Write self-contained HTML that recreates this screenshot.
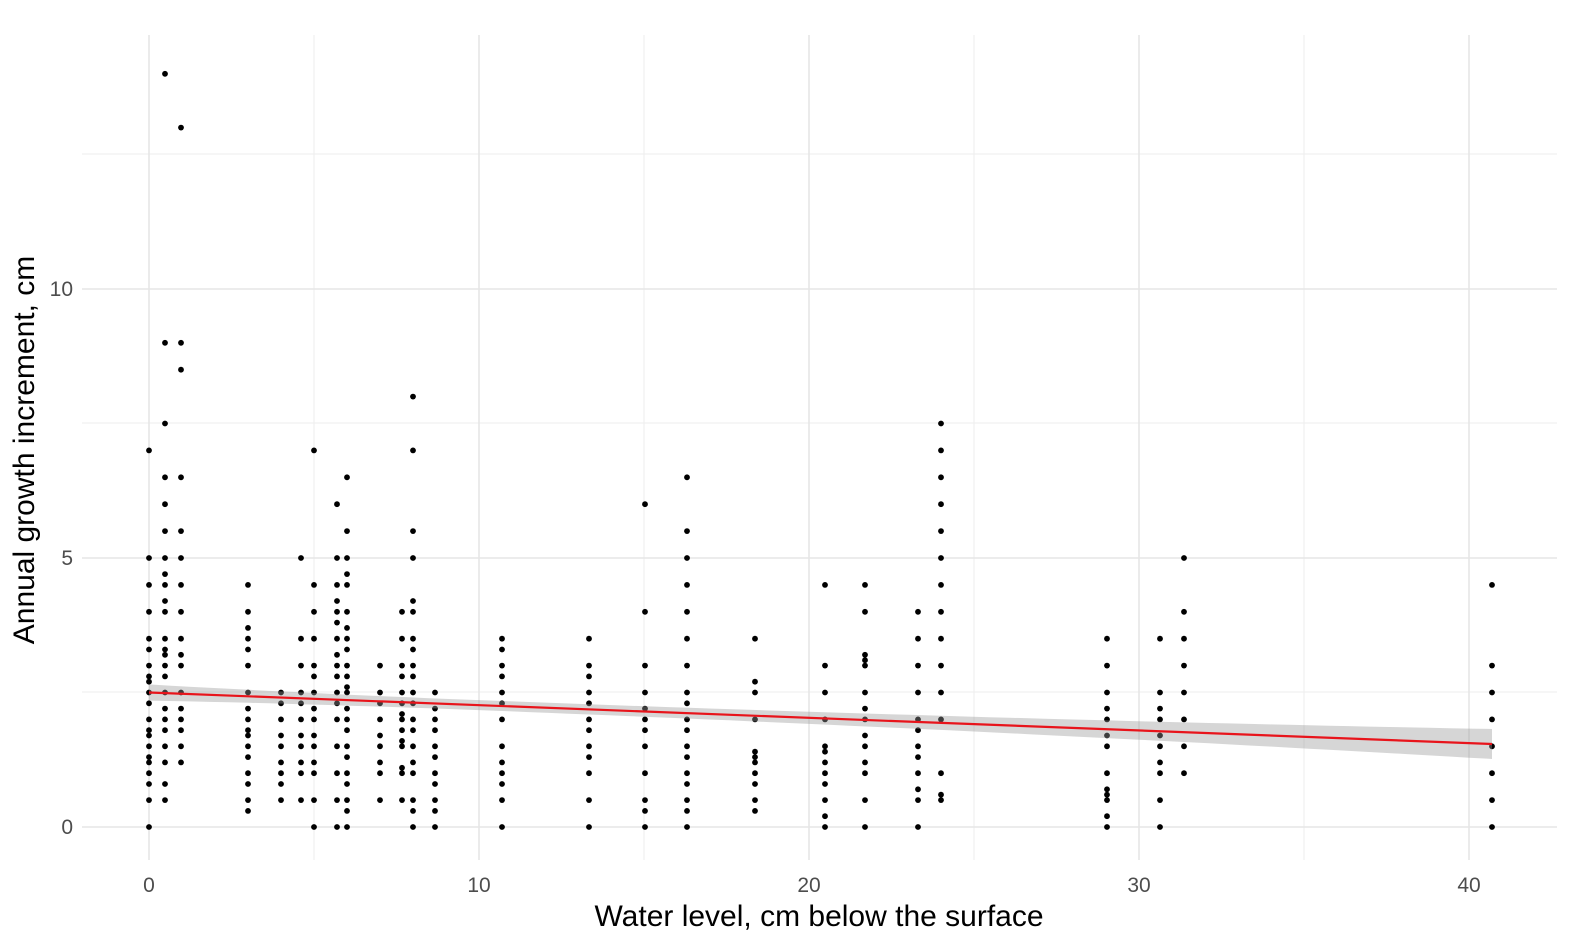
<!DOCTYPE html>
<html><head><meta charset="utf-8"><style>
html,body{margin:0;padding:0;background:#fff;overflow:hidden;width:1574px;height:946px}
svg{display:block;font-family:"Liberation Sans",sans-serif}
</style></head><body>
<svg id="s" width="1574" height="946" xmlns="http://www.w3.org/2000/svg">
<g stroke="#f0f0f0" stroke-width="1.2">
<line x1="314" y1="35" x2="314" y2="860"/><line x1="644" y1="35" x2="644" y2="860"/><line x1="974" y1="35" x2="974" y2="860"/><line x1="1304" y1="35" x2="1304" y2="860"/>
<line x1="82" y1="692" x2="1557" y2="692"/><line x1="82" y1="423" x2="1557" y2="423"/><line x1="82" y1="154" x2="1557" y2="154"/>
</g>
<g stroke="#e6e6e6" stroke-width="1.6">
<line x1="149" y1="35" x2="149" y2="860"/><line x1="479" y1="35" x2="479" y2="860"/><line x1="809" y1="35" x2="809" y2="860"/><line x1="1139" y1="35" x2="1139" y2="860"/><line x1="1469" y1="35" x2="1469" y2="860"/>
<line x1="82" y1="827" x2="1557" y2="827"/><line x1="82" y1="558" x2="1557" y2="558"/><line x1="82" y1="289" x2="1557" y2="289"/>
</g>
<g id="pts" fill="#000"></g>
<path id="band" fill="#999" fill-opacity="0.4"/>
<line x1="149" y1="692.5" x2="1492" y2="744" stroke="#e8141b" stroke-width="2.2"/>
<g fill="#4d4d4d" font-size="21" text-anchor="middle">
<text x="149" y="892">0</text><text x="479" y="892">10</text><text x="809" y="892">20</text><text x="1139" y="892">30</text><text x="1469" y="892">40</text>
</g>
<g fill="#4d4d4d" font-size="21" text-anchor="end">
<text x="73" y="834">0</text><text x="73" y="565">5</text><text x="73" y="296">10</text>
</g>
<text x="819" y="926" font-size="30" text-anchor="middle" fill="#000">Water level, cm below the surface</text>
<text transform="translate(34,450) rotate(-90)" font-size="30" text-anchor="middle" fill="#000">Annual growth increment, cm</text>
</svg>
<script>
var D={149:[0,0.5,0.8,1,1.2,1.3,1.5,1.7,1.8,2,2.3,2.5,2.7,2.8,3,3.3,3.5,4,4.5,5,7],
165:[0.5,0.8,1.2,1.5,1.8,2,2.2,2.5,2.8,3,3.2,3.3,3.5,4,4.2,4.5,4.7,5,5.5,6,6.5,7.5,9,14],
181:[1.2,1.5,1.8,2,2.2,2.5,3,3.2,3.5,4,4.5,5,5.5,6.5,8.5,9,13],
248:[0.3,0.5,0.8,1,1.3,1.5,1.7,1.8,2,2.2,2.5,3,3.3,3.5,3.7,4,4.5],
281:[0.5,0.8,1,1.2,1.5,1.7,2,2.3,2.5],
301:[0.5,1,1.2,1.5,1.7,2,2.3,2.5,3,3.5,5],
314:[0,0.5,1,1.2,1.5,1.7,2,2.2,2.5,2.8,3,3.5,4,4.5,7],
337:[0,0.5,1,1.5,2,2.3,2.5,2.8,3,3.2,3.5,3.8,4,4.2,4.5,5,6],
347:[0,0.3,0.5,0.8,1,1.3,1.5,1.8,2,2.2,2.5,2.6,2.8,3,3.3,3.5,3.7,4,4.5,4.7,5,5.5,6.5],
380:[0.5,1,1.2,1.5,1.7,2,2.3,2.5,3],
402:[0.5,1,1.1,1.5,1.6,1.8,2,2.1,2.3,2.5,2.8,3,3.5,4],
413:[0,0.3,0.5,1,1.2,1.5,1.8,2,2.3,2.5,2.8,3,3.3,3.5,4,4.2,5,5.5,7,8],
435:[0,0.3,0.5,0.8,1,1.3,1.5,1.8,2,2.2,2.5],
502:[0,0.5,0.8,1,1.2,1.5,2,2.3,2.5,2.8,3,3.3,3.5],
589:[0,0.5,1,1.3,1.5,1.8,2,2.3,2.5,2.8,3,3.5],
645:[0,0.3,0.5,1,1.5,1.8,2,2.2,2.5,3,4,6],
687:[0,0.3,0.5,0.8,1,1.3,1.5,1.8,2,2.3,2.5,3,3.5,4,4.5,5,5.5,6.5],
755:[0.3,0.5,0.8,1,1.2,1.3,1.4,2,2.5,2.7,3.5],
825:[0,0.2,0.5,0.8,1,1.2,1.4,1.5,2,2.5,3,4.5],
865:[0,0.5,1,1.2,1.5,1.7,2,2.2,2.5,3,3.1,3.2,4,4.5],
918:[0,0.5,0.7,1,1.3,1.5,1.8,2,2.5,3,3.5,4],
941:[0.5,0.6,1,2,2.5,3,3.5,4,4.5,5,5.5,6,6.5,7,7.5],
1107:[0,0.2,0.5,0.6,0.7,1,1.5,1.7,2,2.2,2.5,3,3.5],
1160:[0,0.5,1,1.2,1.5,1.7,2,2.2,2.5,3.5],
1184:[1,1.5,2,2.5,3,3.5,4,5],
1492:[0,0.5,1,1.5,2,2.5,3,4.5]};
var g=document.getElementById('pts'),h='';
for(var k in D)D[k].forEach(function(v){h+='<circle cx="'+k+'" cy="'+(827-v*53.8).toFixed(1)+'" r="2.9"/>';});
g.innerHTML=h;
var up=[],dn=[];
for(var x=149;x<=1492;x+=20){var t=Math.min(x,1492);var yc=692.5+(t-149)*(51.5/1343);var w=5+Math.pow((t-480)/1012,2)*10+(t<480?Math.pow((480-t)/331,2)*2:0);up.push(t+','+(yc-w).toFixed(1));dn.unshift(t+','+(yc+w).toFixed(1));}
up.push('1492,'+(744-15));dn.unshift('1492,'+(744+15));
document.getElementById('band').setAttribute('d','M'+up.join(' L')+' L'+dn.join(' L')+'Z');
</script>
</body></html>
